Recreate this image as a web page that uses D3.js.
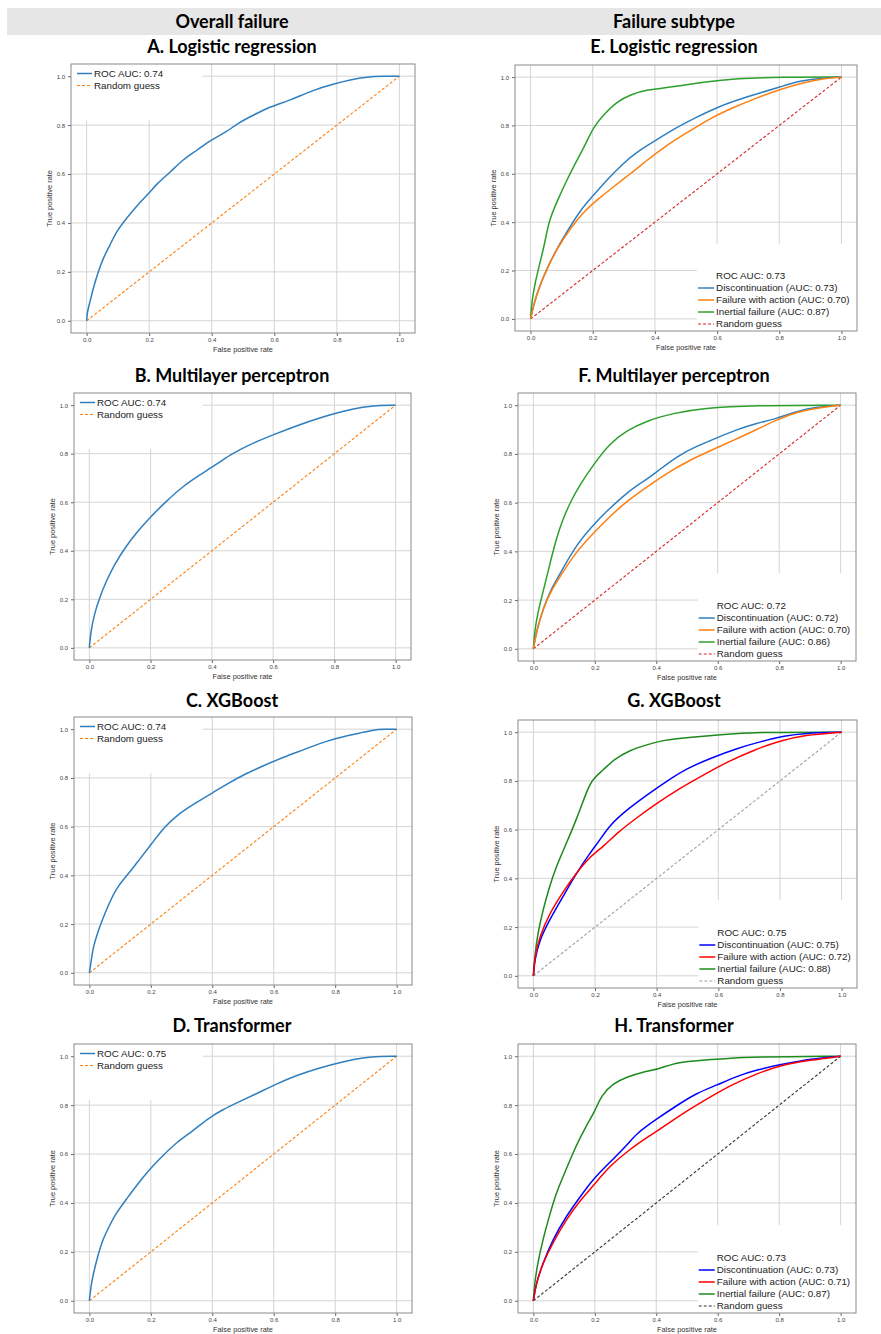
<!DOCTYPE html>
<html><head><meta charset="utf-8">
<script src="https://cdn.jsdelivr.net/npm/d3@7"></script>
<style>body{margin:0;background:#fff}svg{display:block}</style>
</head><body>
<svg id="c" width="881" height="1334"></svg>
<script>
// ---------- DATA ----------
const headers = ["Overall failure", "Failure subtype"];
const ticks = [0, 0.2, 0.4, 0.6, 0.8, 1.0];
const diag = [[0, 0], [1, 1]];

// Overall failure ROC curves [fpr, tpr]
const A_roc = [[0,0],[0.002,0.037],[0.011,0.078],[0.021,0.133],[0.037,0.2],[0.053,0.257],[0.075,0.31],[0.096,0.367],[0.128,0.42],[0.16,0.47],[0.197,0.518],[0.224,0.56],[0.267,0.607],[0.31,0.662],[0.352,0.696],[0.395,0.738],[0.448,0.772],[0.48,0.806],[0.544,0.848],[0.587,0.875],[0.651,0.902],[0.726,0.944],[0.79,0.968],[0.843,0.985],[0.896,0.997],[0.95,1.0],[1,1]];
const B_roc = [[0,0],[0.005,0.069],[0.016,0.137],[0.033,0.206],[0.055,0.274],[0.082,0.343],[0.115,0.41],[0.153,0.473],[0.196,0.535],[0.251,0.604],[0.305,0.665],[0.36,0.712],[0.414,0.755],[0.458,0.795],[0.523,0.838],[0.6,0.878],[0.676,0.915],[0.752,0.948],[0.829,0.975],[0.894,0.993],[0.95,1.0],[1,1]];
const C_roc = [[0,0],[0.005,0.041],[0.013,0.11],[0.027,0.164],[0.038,0.205],[0.065,0.288],[0.092,0.356],[0.13,0.41],[0.163,0.466],[0.201,0.527],[0.245,0.6],[0.293,0.655],[0.348,0.699],[0.402,0.74],[0.457,0.781],[0.5,0.812],[0.565,0.849],[0.63,0.885],[0.696,0.915],[0.772,0.952],[0.848,0.976],[0.891,0.987],[0.924,0.997],[0.96,1.0],[1,1]];
const D_roc = [[0,0],[0.005,0.058],[0.013,0.112],[0.027,0.181],[0.043,0.25],[0.065,0.305],[0.087,0.359],[0.12,0.414],[0.152,0.469],[0.196,0.538],[0.239,0.593],[0.283,0.647],[0.337,0.695],[0.391,0.75],[0.435,0.782],[0.478,0.808],[0.543,0.846],[0.609,0.887],[0.674,0.922],[0.75,0.953],[0.826,0.978],[0.891,0.995],[0.95,1.0],[1,1]];

// Failure subtype ROC curves [fpr, tpr]
const E_disc = [[0,0],[0.01,0.057],[0.026,0.126],[0.053,0.209],[0.085,0.291],[0.117,0.36],[0.16,0.45],[0.203,0.512],[0.246,0.575],[0.299,0.645],[0.342,0.69],[0.396,0.733],[0.46,0.785],[0.535,0.835],[0.6,0.875],[0.664,0.905],[0.739,0.935],[0.804,0.96],[0.868,0.985],[0.93,0.995],[1,1]];
const E_fail = [[0,0],[0.01,0.057],[0.026,0.126],[0.053,0.209],[0.085,0.291],[0.128,0.374],[0.171,0.443],[0.214,0.492],[0.267,0.547],[0.321,0.6],[0.374,0.655],[0.428,0.71],[0.503,0.77],[0.578,0.83],[0.653,0.875],[0.729,0.915],[0.804,0.95],[0.879,0.978],[0.94,0.993],[1,1]];
const E_inert = [[0,0],[0.004,0.07],[0.015,0.153],[0.031,0.236],[0.047,0.319],[0.058,0.402],[0.085,0.485],[0.112,0.561],[0.138,0.63],[0.171,0.706],[0.203,0.796],[0.235,0.844],[0.278,0.899],[0.321,0.927],[0.374,0.948],[0.45,0.958],[0.557,0.98],[0.664,0.995],[0.8,1.0],[1,1]];

const F_disc = [[0,0],[0.01,0.071],[0.032,0.167],[0.059,0.249],[0.097,0.331],[0.14,0.427],[0.195,0.509],[0.238,0.564],[0.303,0.64],[0.358,0.687],[0.401,0.725],[0.466,0.79],[0.532,0.832],[0.597,0.866],[0.662,0.9],[0.727,0.926],[0.792,0.945],[0.858,0.975],[0.923,0.993],[1,1]];
const F_fail = [[0,0],[0.01,0.071],[0.032,0.167],[0.059,0.242],[0.097,0.317],[0.14,0.399],[0.195,0.475],[0.249,0.543],[0.303,0.605],[0.379,0.673],[0.445,0.728],[0.51,0.776],[0.597,0.825],[0.662,0.862],[0.727,0.9],[0.792,0.94],[0.858,0.972],[0.93,0.99],[1,1]];
const F_inert = [[0,0],[0.004,0.071],[0.015,0.153],[0.032,0.235],[0.053,0.345],[0.075,0.454],[0.097,0.536],[0.124,0.611],[0.151,0.673],[0.195,0.755],[0.249,0.844],[0.303,0.895],[0.368,0.936],[0.455,0.967],[0.553,0.988],[0.716,0.999],[1,1]];

const G_disc = [[0,0],[0.004,0.064],[0.02,0.147],[0.052,0.229],[0.096,0.325],[0.139,0.421],[0.183,0.503],[0.216,0.558],[0.248,0.619],[0.303,0.681],[0.368,0.742],[0.434,0.8],[0.499,0.852],[0.575,0.893],[0.662,0.934],[0.739,0.962],[0.815,0.985],[0.88,0.996],[1,1]];
const G_fail = [[0,0],[0.004,0.078],[0.02,0.16],[0.052,0.256],[0.096,0.345],[0.139,0.421],[0.183,0.489],[0.227,0.53],[0.27,0.585],[0.336,0.65],[0.401,0.708],[0.466,0.763],[0.553,0.825],[0.63,0.879],[0.717,0.927],[0.793,0.962],[0.88,0.989],[1,1]];
const G_inert = [[0,0],[0.004,0.078],[0.014,0.174],[0.031,0.27],[0.052,0.366],[0.074,0.448],[0.107,0.544],[0.139,0.64],[0.167,0.736],[0.188,0.804],[0.227,0.845],[0.259,0.886],[0.314,0.927],[0.368,0.948],[0.423,0.968],[0.499,0.978],[0.608,0.99],[0.717,1.0],[1,1]];

const H_disc = [[0,0],[0.009,0.071],[0.031,0.154],[0.063,0.25],[0.107,0.346],[0.15,0.421],[0.194,0.497],[0.248,0.565],[0.303,0.634],[0.336,0.685],[0.401,0.743],[0.466,0.798],[0.532,0.85],[0.597,0.882],[0.662,0.918],[0.728,0.945],[0.815,0.968],[0.902,0.99],[1,1]];
const H_fail = [[0,0],[0.009,0.071],[0.031,0.154],[0.063,0.236],[0.107,0.332],[0.15,0.407],[0.194,0.469],[0.248,0.551],[0.314,0.62],[0.379,0.675],[0.444,0.73],[0.51,0.785],[0.575,0.833],[0.641,0.881],[0.728,0.929],[0.804,0.963],[0.902,0.984],[1,1]];
const H_inert = [[0,0],[0.004,0.071],[0.014,0.154],[0.031,0.25],[0.052,0.346],[0.074,0.442],[0.107,0.538],[0.139,0.634],[0.172,0.716],[0.199,0.771],[0.221,0.84],[0.259,0.888],[0.303,0.915],[0.357,0.936],[0.412,0.949],[0.466,0.975],[0.553,0.984],[0.619,0.99],[0.717,0.997],[1,1]];

// Titles and legend labels
const titles = ["A. Logistic regression","B. Multilayer perceptron","C. XGBoost","D. Transformer",
                "E. Logistic regression","F. Multilayer perceptron","G. XGBoost","H. Transformer"];
const overallAUC = ["ROC AUC: 0.74","ROC AUC: 0.74","ROC AUC: 0.74","ROC AUC: 0.75"];
const subtypeAUC = ["ROC AUC: 0.73","ROC AUC: 0.72","ROC AUC: 0.75","ROC AUC: 0.73"];
const discLabels = ["Discontinuation (AUC: 0.73)","Discontinuation (AUC: 0.72)","Discontinuation (AUC: 0.75)","Discontinuation (AUC: 0.73)"];
const failLabels = ["Failure with action (AUC: 0.70)","Failure with action (AUC: 0.70)","Failure with action (AUC: 0.72)","Failure with action (AUC: 0.71)"];
const inertLabels = ["Inertial failure (AUC: 0.87)","Inertial failure (AUC: 0.86)","Inertial failure (AUC: 0.88)","Inertial failure (AUC: 0.87)"];
const randomLabel = "Random guess";

// ---------- LAYOUT / STYLE ----------
const frames = [
  [71,64,415,333],[74,393,411,660],[74,717,412,985],[74,1044,412,1313],
  [515,65,857,331],[518,393,856,661],[518,720,857,988],[518,1044,856,1313]
];
const titleY = [53,382,707,1032];
const colX = [232,674];
const tab = {blue:"#2f7fbf",orange:"#ff7f0e",green:"#2ca02c",red:"#d62728"};

const svg = d3.select("#c");
svg.append("rect").attr("x",7).attr("y",8).attr("width",874).attr("height",27).attr("fill","#e6e6e6");
headers.forEach((h,i)=>{
  svg.append("text").attr("x",colX[i]).attr("y",28).attr("text-anchor","middle")
    .attr("font-family","Lato, 'Open Sans', sans-serif").attr("font-weight","bold").attr("font-size",18)
    .attr("fill","#000").text(h);
});

function panel(idx, series, leftLegend, legendItems) {
  const [fx0, fy0, fx1, fy1] = frames[idx];
  const x = d3.scaleLinear().domain([-0.05,1.05]).range([fx0,fx1]);
  const y = d3.scaleLinear().domain([-0.05,1.05]).range([fy1,fy0]);
  const g = svg.append("g");
  const col = idx < 4 ? 0 : 1;
  g.append("text").attr("x",colX[col]).attr("y",titleY[idx%4]).attr("text-anchor","middle")
    .attr("font-family","Lato, 'Open Sans', sans-serif").attr("font-weight","bold").attr("font-size",18)
    .text(titles[idx]);
  // grid
  g.selectAll(".vg").data(ticks).join("line").attr("x1",d=>x(d)).attr("x2",d=>x(d))
    .attr("y1",fy0).attr("y2",fy1).attr("stroke","#d4d4d4").attr("stroke-width",1);
  g.selectAll(".hg").data(ticks).join("line").attr("y1",d=>y(d)).attr("y2",d=>y(d))
    .attr("x1",fx0).attr("x2",fx1).attr("stroke","#d4d4d4").attr("stroke-width",1);
  // legend background (hides grid)
  if (leftLegend) {
    g.append("rect").attr("x",fx0).attr("y",fy0).attr("width",x(0.37)-fx0).attr("height",y(0.82)-fy0).attr("fill","#fff");
  } else {
    g.append("rect").attr("x",x(0.535)).attr("y",y(0.31)).attr("width",fx1-x(0.535)).attr("height",fy1-y(0.31)).attr("fill","#fff");
  }
  // axes
  const fmt = d3.format(".1f");
  const ax = g.append("g").attr("transform",`translate(0,${fy1})`)
    .call(d3.axisBottom(x).tickValues(ticks).tickFormat(fmt).tickSize(3).tickPadding(2));
  const ay = g.append("g").attr("transform",`translate(${fx0},0)`)
    .call(d3.axisLeft(y).tickValues(ticks).tickFormat(fmt).tickSize(3).tickPadding(3));
  [ax,ay].forEach(a=>{
    a.select(".domain").remove();
    a.selectAll("line").attr("stroke","#666");
    a.selectAll("text").attr("font-family","'Liberation Sans', Arial, sans-serif").attr("font-size",6).attr("fill","#444");
  });
  g.append("text").attr("x",(fx0+fx1)/2).attr("y",fy1+19).attr("text-anchor","middle")
    .attr("font-family","'Liberation Sans', Arial, sans-serif").attr("font-size",7.4).attr("fill","#333").text("False positive rate");
  g.append("text").attr("transform",`translate(${fx0-19},${(y(0)+y(1))/2}) rotate(-90)`).attr("text-anchor","middle")
    .attr("font-family","'Liberation Sans', Arial, sans-serif").attr("font-size",7.4).attr("fill","#333").text("True positive rate");
  // lines
  const line = d3.line().x(d=>x(d[0])).y(d=>y(d[1])).curve(d3.curveBasis);
  series.forEach(s=>{
    g.append("path").datum(s.data).attr("d",line).attr("fill","none").attr("stroke",s.color)
      .attr("stroke-width",s.dash?1.1:1.5).attr("stroke-dasharray",s.dash?"3,2":null);
  });
  // legend
  const lf = "'Liberation Sans', Arial, sans-serif";
  legendItems.forEach((it,i)=>{
    let tx, ty, hx0, hx1;
    if (leftLegend) { tx = fx0+23; ty = fy0+9.5+12*i; hx0 = fx0+6; hx1 = fx0+21; }
    else { tx = x(0.6)-1; ty = fy1-7-12*(legendItems.length-1-i); hx0 = x(0.6)-19; hx1 = x(0.6)-3; }
    if (it.color) {
      g.append("line").attr("x1",hx0).attr("x2",hx1).attr("y1",ty).attr("y2",ty).attr("stroke",it.color)
        .attr("stroke-width",it.dash?1.1:1.5).attr("stroke-dasharray",it.dash?"3,2":null);
    }
    g.append("text").attr("x",tx).attr("y",ty).attr("dy","0.35em").attr("font-family",lf).attr("font-size",9.8)
      .attr("fill","#222").text(it.label);
  });
  // frame
  g.append("rect").attr("x",fx0).attr("y",fy0).attr("width",fx1-fx0).attr("height",fy1-fy0)
    .attr("fill","none").attr("stroke","#8a8a8a").attr("stroke-width",1);
}

const overall = [A_roc,B_roc,C_roc,D_roc];
overall.forEach((r,i)=>{
  panel(i,[{data:diag,color:tab.orange,dash:true},{data:r,color:tab.blue}],true,
    [{label:overallAUC[i],color:tab.blue},{label:randomLabel,color:tab.orange,dash:true}]);
});
const sub = [[E_disc,E_fail,E_inert],[F_disc,F_fail,F_inert],[G_disc,G_fail,G_inert],[H_disc,H_fail,H_inert]];
const subColors = [
  [tab.blue,tab.orange,tab.green,tab.red],
  [tab.blue,tab.orange,tab.green,tab.red],
  ["#0000ff","#ff0000","#1e8a1e","#a0a0a0"],
  ["#0000ff","#ff0000","#1e8a1e","#333333"]
];
sub.forEach((s,i)=>{
  const c = subColors[i];
  panel(4+i,[{data:diag,color:c[3],dash:true},{data:s[2],color:c[2]},{data:s[0],color:c[0]},{data:s[1],color:c[1]}],false,
    [{label:subtypeAUC[i]},{label:discLabels[i],color:c[0]},{label:failLabels[i],color:c[1]},
     {label:inertLabels[i],color:c[2]},{label:randomLabel,color:c[3],dash:true}]);
});
</script>
</body></html>
